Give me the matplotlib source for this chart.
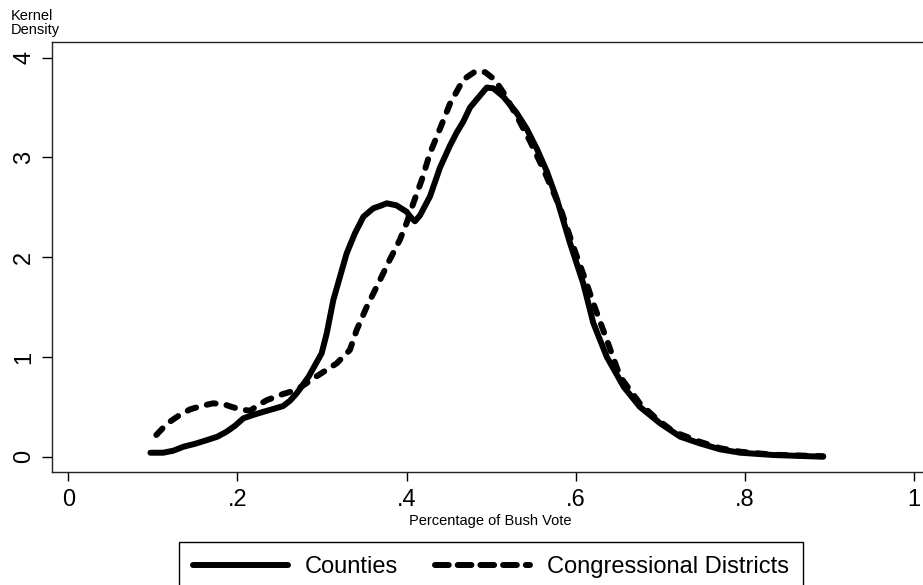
import numpy as np
import matplotlib
matplotlib.use('Agg')
import matplotlib.pyplot as plt
from matplotlib.lines import Line2D

plt.rcParams['font.family'] = ['Liberation Sans', 'DejaVu Sans']

# Kernel density of Bush vote share, by unit of aggregation
county_x = [0.097, 0.112, 0.124, 0.136, 0.150, 0.164, 0.176, 0.187, 0.197, 0.207,
            0.219, 0.231, 0.243, 0.254, 0.262, 0.270, 0.284, 0.2996, 0.3056, 0.3134,
            0.3213, 0.3292, 0.339, 0.349, 0.3607, 0.3686, 0.3766, 0.388, 0.400, 0.406,
            0.410, 0.416, 0.4278, 0.4397, 0.4515, 0.4594, 0.4672, 0.4751, 0.483, 0.4949,
            0.5027, 0.5146, 0.530, 0.542, 0.554, 0.566, 0.578, 0.5935, 0.609, 0.621,
            0.637, 0.657, 0.676, 0.700, 0.724, 0.747, 0.771, 0.795, 0.834, 0.893]
county_y = [0.04, 0.04, 0.06, 0.10, 0.13, 0.167, 0.20, 0.25, 0.31, 0.385,
            0.42, 0.451, 0.48, 0.508, 0.56, 0.635, 0.80, 1.037, 1.237, 1.571,
            1.805, 2.039, 2.24, 2.406, 2.49, 2.513, 2.54, 2.52, 2.456, 2.39,
            2.36, 2.42, 2.61, 2.90, 3.12, 3.25, 3.36, 3.50, 3.58, 3.70,
            3.693, 3.609, 3.45, 3.29, 3.09, 2.86, 2.58, 2.14, 1.74, 1.34,
            1.00, 0.70, 0.50, 0.335, 0.20, 0.134, 0.074, 0.04, 0.017, 0.0]

district_x = [0.104, 0.112, 0.120, 0.132, 0.144, 0.158, 0.171, 0.183, 0.193, 0.203,
              0.215, 0.225, 0.235, 0.245, 0.254, 0.270, 0.290, 0.3174, 0.333, 0.341,
              0.353, 0.3686, 0.380, 0.392, 0.400, 0.408, 0.418, 0.4277, 0.4397, 0.4515,
              0.4672, 0.481, 0.4929, 0.5047, 0.5146, 0.530, 0.546, 0.562, 0.5735, 0.5834,
              0.5974, 0.613, 0.621, 0.637, 0.6527, 0.676, 0.6957, 0.716, 0.747, 0.771,
              0.795, 0.834, 0.893]
district_y = [0.218, 0.29, 0.351, 0.42, 0.475, 0.51, 0.535, 0.528, 0.50, 0.475,
              0.461, 0.52, 0.568, 0.60, 0.629, 0.669, 0.786, 0.936, 1.07, 1.27,
              1.504, 1.771, 1.972, 2.172, 2.34, 2.54, 2.774, 3.04, 3.29, 3.54,
              3.78, 3.86, 3.855, 3.777, 3.65, 3.42, 3.165, 2.88, 2.657, 2.456,
              2.105, 1.738, 1.538, 1.17, 0.802, 0.535, 0.38, 0.25, 0.15, 0.085,
              0.05, 0.02, 0.005]

x_ticks = [0, 0.2, 0.4, 0.6, 0.8, 1.0]
x_tick_labels = ['0', '.2', '.4', '.6', '.8', '1']
y_ticks = [0, 1, 2, 3, 4]
series_names = ['Counties', 'Congressional Districts']

fig = plt.figure(figsize=(9.23, 5.85), dpi=100)
# right edge runs past the figure so no right spine shows
ax = fig.add_axes([0.0563, 0.1932, 0.9537, 0.735])

lw = 4.3
ax.plot(county_x, county_y, color='black', lw=lw, solid_capstyle='round',
        solid_joinstyle='round')
ax.plot(district_x, district_y, color='black', lw=lw, dashes=(1.5, 1.85),
        dash_capstyle='round', dash_joinstyle='round')

ax.set_xlim(-0.0195, 1.022)
ax.set_ylim(-0.153, 4.157)

ax.set_xticks(x_ticks)
ax.set_xticklabels(x_tick_labels)
ax.set_yticks(y_ticks)
ax.tick_params(axis='x', direction='out', length=6.5, width=1, pad=6, labelsize=17)
ax.tick_params(axis='y', direction='out', length=7.2, width=1, pad=5, labelsize=17,
               labelrotation=90)
for lab in ax.get_yticklabels():
    lab.set_va('center')

for side in ['left', 'top', 'bottom']:
    ax.spines[side].set_linewidth(1.0)
    ax.spines[side].set_color('#222222')
ax.spines['right'].set_visible(False)

ax.set_xlabel('Percentage of Bush Vote', fontsize=10.5, va='center')
ax.xaxis.set_label_coords(0.4976, -0.114)

fig.text(11 / 923, 1 - 9 / 585, 'Kernel\nDensity', ha='left', va='top',
         fontsize=10.5, linespacing=1.0)

handles = [
    Line2D([], [], color='black', lw=lw, solid_capstyle='round'),
    Line2D([], [], color='black', lw=lw, dashes=(2.3, 1.5), dash_capstyle='round'),
]
fig.legend(handles, series_names, ncol=2, loc='upper center',
           bbox_to_anchor=(491 / 923, 1 - 542 / 585), fontsize=17,
           frameon=True, fancybox=False, edgecolor='black', framealpha=1,
           handlelength=4.0, handletextpad=0.72, columnspacing=1.57,
           borderpad=0.6, borderaxespad=0)

fig.savefig('out.png', dpi=100)
